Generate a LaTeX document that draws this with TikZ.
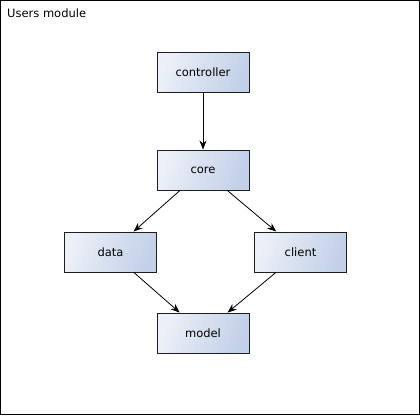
\documentclass[tikz,border=0pt]{standalone}
\usepackage{fontspec}
\setmainfont{DejaVu Sans}
\usetikzlibrary{arrows.meta}

\definecolor{boxlight}{RGB}{236,240,248}
\definecolor{boxdark}{RGB}{194,208,232}
\definecolor{boxline}{RGB}{30,30,30}

\tikzset{
  modbox/.style={draw=boxline, line width=0.9pt, minimum width=92pt, minimum height=40pt,
    inner sep=0pt, top color=boxlight, bottom color=boxdark, shading angle=70,
    font=\fontsize{11.5}{14}\selectfont},
  dep/.style={-{Stealth[length=9pt,width=7pt]}, line width=0.8pt}
}

\begin{document}
\begin{tikzpicture}[x=1pt, y=-1pt]
			\useasboundingbox (0,0) rectangle (420,415);
			\draw [line width=1pt] (0.5,0.5) rectangle (419.5,414.5);
			\node [anchor=base west, inner sep=0pt, font=\fontsize{11.5}{14}\selectfont] (title) at (7,17) {Users module};
			\node [modbox] (controller) at (203,72) {controller};
			\node [modbox] (core) at (203,170) {core};
			\node [modbox] (data) at (110.5,252) {data};
			\node [modbox] (client) at (300.5,252) {client};
			\node [modbox] (model) at (203,333) {model};
			\draw [dep] (controller) -- (core);
			\draw [dep] (core) -- (data);
			\draw [dep] (core) -- (client);
			\draw [dep] (data) -- (model);
			\draw [dep] (client) -- (model);
	\end{tikzpicture}
\end{document}
